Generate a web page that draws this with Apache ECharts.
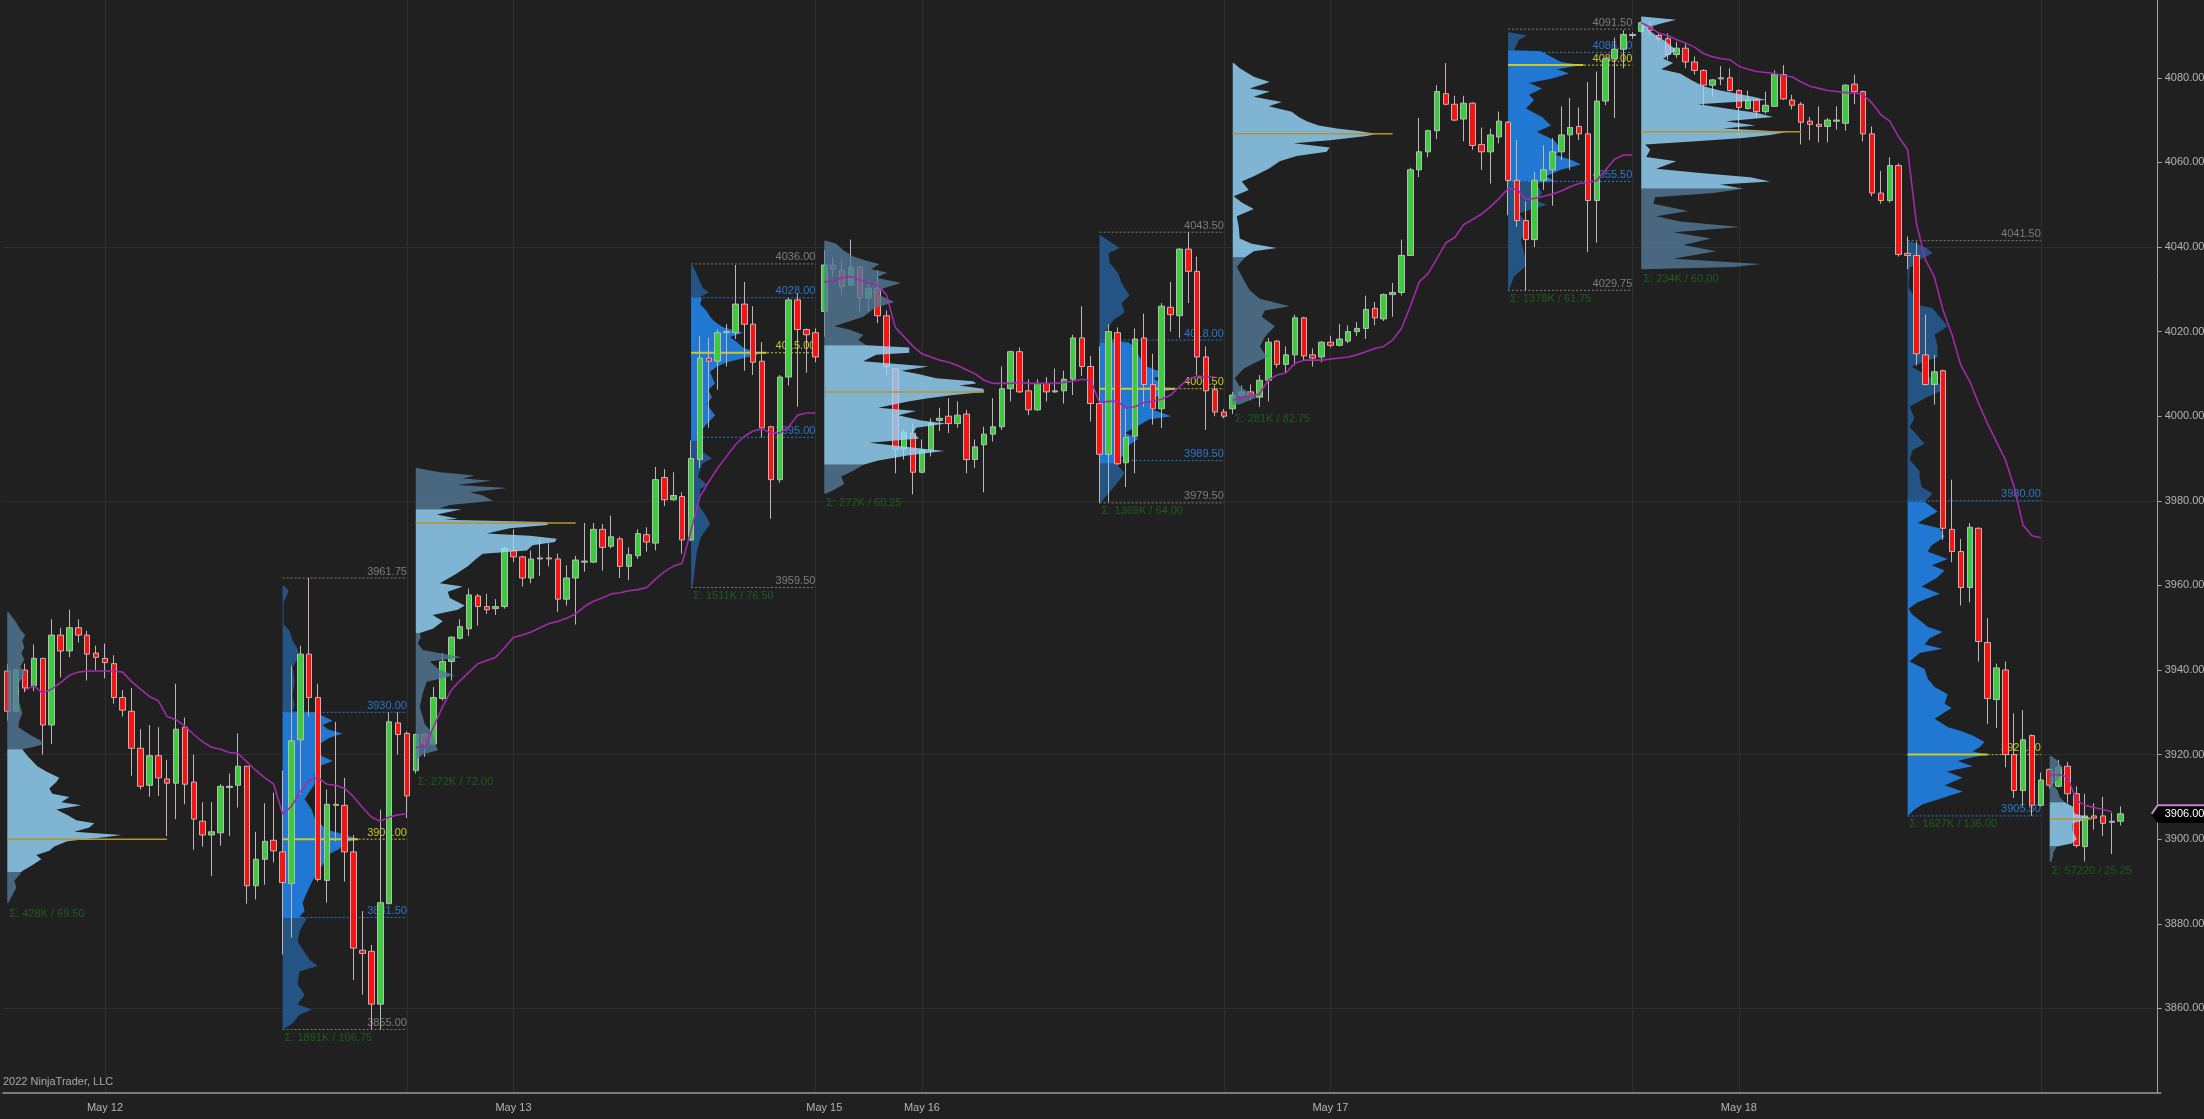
<!DOCTYPE html>
<html>
<head>
<meta charset="utf-8">
<style>html,body{margin:0;padding:0;background:#202020;}#c{width:2204px;height:1119px;}</style>
<script src="https://cdn.jsdelivr.net/npm/echarts@6/dist/echarts.min.js"></script>
</head>
<body>
<div id="c"></div>
<script>
// [open, close, low, high]
const candles = [
[3939.75,3930.25,3928,3941.5],[3930.25,3940,3930,3940.25],[3940,3935.75,3934.75,3941.5],[3936.25,3942.75,3935,3946],[3942.75,3927,3920,3942.75],
[3927,3948.25,3922.5,3952],[3948.25,3944.5,3938.25,3950],[3944.5,3950,3943,3954.25],[3950,3948.25,3946.5,3952],[3948.25,3943.75,3937.5,3949.25],
[3944,3943,3940,3945.75],[3942.75,3941.75,3938,3946.25],[3941.5,3933.5,3932,3943.5],[3933.5,3930.5,3929,3935.25],[3930.25,3921.5,3915,3935.75],
[3921.5,3912.5,3911.75,3926],[3912.75,3919.75,3910,3927],[3919.75,3914.5,3910.25,3926.5],[3914.25,3913.25,3900.75,3918.75],[3913.25,3926,3904.75,3936.75],
[3926.5,3913,3908.25,3928.75],[3913.5,3904.75,3897.5,3920],[3904.25,3901,3898.25,3908.75],[3901,3901.75,3891.25,3908.75],[3901.5,3912.5,3898.5,3913],
[3912.25,3912.5,3900.75,3915.5],[3912.75,3917.25,3907.5,3925],[3917.25,3889,3884.75,3917.25],[3889,3895.25,3885.75,3901.75],[3895.25,3899.5,3889.25,3908.5],
[3899.75,3897.25,3894.5,3911],[3897,3889.75,3872.75,3916.25],[3889.5,3923.25,3876.75,3941],[3923.5,3943.75,3910.5,3945.75],[3943.75,3933.5,3929,3961.75],
[3933.5,3890.5,3890,3936.75],[3890.25,3908.25,3885,3911.75],[3908.25,3908,3899.5,3927.75],[3908,3897,3890,3914.5],[3897,3874.25,3866.75,3901],
[3873.75,3873,3863.25,3883],[3873.5,3861,3855,3875],[3861,3885,3855,3907],[3884.75,3927.75,3884.75,3930],[3927.5,3924.75,3920,3930],
[3925,3910.25,3905,3925.5],[3916.25,3924.75,3915.5,3925],[3924.75,3922.75,3919.5,3925],[3922.5,3933.5,3922.25,3936],[3933.25,3942,3932.75,3944],
[3942,3947.75,3937.5,3948],[3947.5,3950.25,3947.25,3952],[3949.75,3957.75,3948,3959.25],[3957.5,3955,3950.5,3958],[3955,3954.25,3953.25,3958],
[3954.5,3955,3953,3956.75],[3955,3968.75,3954.5,3969],[3968.25,3966.75,3965.5,3973.25],[3966.75,3961.75,3959.75,3967],[3961.75,3966.25,3960.5,3968.25],
[3966.25,3966.5,3962.25,3970.75],[3966.5,3966.25,3964.5,3970],[3966.25,3956.75,3953.75,3967.5],[3956.75,3961.75,3955.25,3964.75],[3961.75,3966,3950.75,3967],
[3965.5,3965.75,3963.25,3974.75],[3965.5,3973.25,3965.25,3974.75],[3973.25,3969,3963.5,3974.5],[3969.25,3971.5,3968.75,3976.5],[3971,3964.5,3961.75,3971.5],
[3964.5,3967.25,3961.25,3969],[3967,3972.25,3966.25,3973.25],[3972,3970.25,3968,3973.75],[3970,3985,3968.25,3988],[3985.5,3980.25,3978.75,3987.5],
[3980.25,3981.25,3980,3986.75],[3981,3970.75,3967.5,3982],[3970.75,3990,3970.5,3994.25],[3989.75,4013.75,3987.75,4019],[4013.75,4013,3997.25,4018.5],
[4013,4019.75,4006.25,4020.5],[4019.75,4020,4011.75,4021.75],[4019.75,4026.5,4018.25,4035.75],[4026.5,4021.75,4010.75,4031.75],[4021.75,4012.75,4009.75,4026],
[4013,3997.25,3995,4017.5],[3997.5,3985,3975.75,3997.75],[3985,4009.25,3984.25,4009.75],[4009.25,4027.5,4007.25,4028],[4027.5,4020.5,4002.25,4029],
[4020.5,4019.25,4010.25,4020.75],[4019.75,4014,4012.75,4020.75],[4024.75,4035.75,4018.75,4039.25],[4035.75,4034.75,4033,4037.5],[4034.5,4030.75,4028.75,4037],
[4031,4035.25,4030.75,4041.75],[4035.25,4028,4024.5,4035.5],[4028,4030.25,4024.75,4031.5],[4030.25,4023.75,4022,4034.5],[4023.75,4011.75,4009.75,4025],
[4011.25,3992.25,3986.5,4011.25],[3992.25,3996.25,3989.75,3996.75],[3996,3986.75,3981.5,3998.25],[3986.75,3992,3986.5,3994.5],[3992,3998.25,3990.5,3999.5],
[3999,3999.5,3996.5,4002],[4000,3998.25,3996,4004.25],[3998.25,4000.25,3997.25,4003.5],[4000.5,3989.75,3986.5,4001.5],[3989.75,3992.75,3987.75,3994.5],
[3993.25,3995.75,3982,3997.5],[3995.75,3997.5,3994,4004.25],[3997.5,4006.5,3996.75,4011.75],[4006.5,4015.25,4003.5,4015.5],[4015.25,4005.75,4005.5,4016.25],
[4006,4001.5,4000.25,4008.75],[4001.5,4007.75,4001.25,4008.75],[4007.75,4005.75,4003.5,4009.25],[4005.75,4006,4005.5,4011.25],[4006,4008.75,4003,4010.75],
[4008.75,4018.5,4005,4019.25],[4018.5,4011.75,4009.5,4026],[4011.75,4003,3998.75,4014.25],[4003,3991,3979.5,4016.5],[3991,4020,3979.75,4021.75],
[4019.75,3988.75,3988.5,4021],[3989,3995,3983.25,4001.75],[3995.25,4018.25,3986.5,4020.75],[4018.5,4007.5,4002.25,4024.25],[4007.5,4001.75,3998,4014.75],
[4001.75,4026,3997.25,4026.75],[4025.75,4024,4020,4031.75],[4023.75,4039.5,4018.5,4039.75],[4039.5,4034.25,4026.75,4043.5],[4034.25,4014,4009.75,4037.75],
[4014,4006,3996.75,4016.5],[4006.25,4001,4000,4007.25],[4001,4000,3999.5,4001.75],[4001.75,4005,4000.5,4005.75],[4005,4005.75,4004.75,4007.25],
[4005.75,4004.75,4003.75,4007.5],[4004.5,4008.5,4002.25,4009.75],[4008.5,4017.5,4003.5,4018.5],[4017.75,4012.25,4011.5,4018],[4012.25,4014.5,4010.25,4016.5],
[4014.5,4023.25,4012,4024],[4023.25,4014.25,4013.25,4023.5],[4014.5,4013.75,4011.75,4016],[4014,4017.5,4012.75,4017.75],[4017.5,4016.75,4016.25,4019],
[4016.75,4018.25,4016.5,4021.75],[4017.75,4020,4017.25,4021.5],[4020,4020.75,4019,4022.25],[4020.75,4025.25,4018.25,4028.5],[4025.5,4023.25,4021.5,4027],
[4023,4028.75,4022.5,4029],[4028.75,4029.25,4023.5,4031.5],[4029.25,4038,4028.5,4041.75],[4038,4058.25,4038,4058.75],[4058.25,4062.5,4056.5,4070.5],
[4062.5,4067.5,4061.25,4067.75],[4067.5,4076.75,4065.5,4078.25],[4076.25,4073.75,4073.5,4083.5],[4073.75,4070,4069.75,4075.75],[4070.25,4074,4065,4075.75],
[4074,4064,4063,4074.25],[4064.25,4062.5,4058.25,4068.25],[4062.5,4066.5,4055,4068],[4066,4069.75,4064.5,4072],[4069.5,4055.75,4047.5,4069.75],
[4055.75,4046.25,4044.75,4065.25],[4046.25,4041.75,4029.75,4050.75],[4041.75,4055.75,4040,4057.75],[4055.75,4058.25,4053.5,4064],[4058.25,4062.5,4049.75,4065.75],
[4062.5,4066.5,4060.5,4073.25],[4066.5,4068.25,4058.25,4075.25],[4068.5,4066.75,4065.25,4073],[4066.75,4051,4038.75,4079],[4051,4074.5,4041,4081.5],
[4074.5,4084.5,4073.5,4084.75],[4084.5,4086.75,4070.5,4089.5],[4086.75,4090.25,4082.25,4091.25],[4090,4090.25,4089.25,4090.75],[4091,4093,4090.75,4093.25],
[4092,4091.25,4090,4093.25],[4090,4089.25,4088.5,4090.75],[4089.25,4085.5,4084.25,4090.5],[4085.5,4087,4084.75,4088.5],[4087,4083.75,4082.25,4088],
[4083.75,4081.75,4080.75,4085],[4081.75,4078.25,4073.5,4082],[4078.25,4079.5,4075.5,4079.75],[4079.75,4080,4078.25,4082.75],[4080,4077,4076.75,4082.25],
[4077,4073,4066.75,4077.25],[4072.75,4074.75,4072.5,4077],[4074.75,4072,4070.5,4075],[4072,4073.5,4071.5,4076.75],[4073.25,4080.75,4073.25,4081.75],
[4080.75,4075,4074.75,4083],[4074.75,4073.5,4072.5,4076],[4073.75,4069.5,4064.25,4074.25],[4069.75,4069,4065.25,4070.75],[4069,4068.5,4064.75,4073.25],
[4068.5,4070,4064.75,4070.5],[4069.75,4070,4067.75,4073.25],[4069.25,4078.25,4067.5,4078.5],[4078.5,4076.75,4073.75,4080.75],[4076.75,4066.75,4065,4077],
[4066.75,4052.75,4052,4068.5],[4052.75,4051,4050.25,4058],[4051,4059.25,4050.5,4061.25],[4059.25,4038.25,4037.75,4059.75],[4038.5,4038,4034.75,4042.5],
[4038,4014.75,4012,4041.25],[4014.5,4007.5,4007.25,4024],[4007.5,4010.5,4002.75,4014.5],[4010.75,3973.5,3970.75,4011],[3973.25,3968,3965.5,3985],
[3968,3959.5,3955.25,3971],[3959.5,3973.75,3956,3974.75],[3973.5,3946.75,3942,3973.75],[3946.5,3933.25,3927.25,3952.25],[3933,3940.5,3926.25,3941.5],
[3940,3920,3917,3942],[3920,3911.5,3909.75,3929.75],[3911.5,3923.5,3907.75,3930.5],[3924.5,3908,3905.5,3924.75],[3908,3914,3907.75,3915.75],
[3916.5,3912.75,3912,3916.75],[3912.5,3917,3912.25,3918.75],[3917.25,3910.75,3908.5,3918.25],[3910.75,3898.5,3898,3912.5],[3898.25,3905.5,3894.75,3910.75],
[3905.5,3905,3902.25,3908.5],[3905.5,3903.75,3900.75,3910],[3904,3904.25,3896.5,3906.25],[3904.25,3906,3903.25,3907.75]
];

const dateBars = [11,57,92,103,149,195];
const dateLabels = ['May 12','May 13','May 15','May 16','May 17','May 18'];
const gridBars = [11,45,57,91,103,137,149,183,195,229];
const priceGrid = [3860,3920,3980,4040];
const lastPrice = 3906;

// session VWAP lines
const vwapStarts = [2,46,92,138,184,230];
const vwapA = [3935.25,3936.25,3934.5,3935.5,3937,3938.75,3939.5,3939.75,3939.75,3939.75,3939.75,3939.5,3937.25,3935.5,3933.75,3932.75,3929,3928.25,3926.75,3924.75,3923,3921.75,3921.25,3920.5,3920.25,3918.25,3916.25,3914.5,3913,3906,3907.75,3911.25,3914,3914.5,3913,3912.75,3912,3910,3907.5,3905.25,3904.25,3905.25,3905.75,3906];
const vwapB = [3921.75,3921.75,3926.5,3931.25,3935.25,3937.5,3939.5,3941.5,3942.25,3943,3945.25,3947.75,3948.25,3949,3950,3951,3951.5,3952.25,3953.25,3955,3956.25,3957,3958,3958.25,3958.75,3959,3959.5,3961.5,3963.25,3964.5,3965.25,3973,3981,3984.5,3987.75,3990.5,3993.25,3995.25,3996.5,3997,3996,3996,3997.5,4000.25,4000.75,4000.75];
const vwapC = [4031.75,4032,4032.75,4033,4032.25,4031.5,4031,4028.75,4021,4018.75,4016.5,4014.75,4014,4013.25,4012.75,4012,4011,4010,4008.5,4007.75,4007.75,4007.75,4008,4007.75,4007.75,4007.75,4007.75,4008,4008.25,4008.75,4008.5,4003.25,4003.5,4003.5,4002,4002.25,4003.25,4003.5,4004,4005,4007,4008.75,4009.5,4009.25,4009.25];
const vwapD = [4003.75,4004.5,4004.75,4005.25,4008.5,4009.75,4010.25,4012.5,4013.25,4013.25,4013.25,4013.5,4013.75,4014,4014.5,4015.25,4016,4016.5,4018,4020.75,4026,4031.75,4033.75,4037.25,4041,4042.25,4045.25,4046.5,4047.75,4049.5,4051.5,4053.75,4053.75,4051.25,4051.5,4052,4052.5,4053.25,4054.25,4055,4055.25,4055.75,4058.25,4060.75,4061.75,4061.75];
const vwapE = [4093,4092,4090.5,4090,4089,4088.25,4087.25,4085.75,4085,4084.5,4084.25,4082.75,4082,4081.5,4081.25,4081,4080.5,4080.25,4079,4078,4077.5,4077,4076.75,4076.5,4076.5,4076,4074,4071.25,4069.75,4066,4063,4045.5,4037,4033,4025,4019.25,4012,4008.25,4003,3998.25,3994,3989.75,3983.25,3974.25,3971.75,3971.25];
const vwapF = [3915.25,3915.25,3914.75,3909.25,3908,3907.5,3907,3906.5];

// volume profiles: price of each row, volume of each row
const pricesA = [3953.75,3952.5,3951.25,3949.5,3948.25,3947,3945.25,3944,3942.5,3940.75,3939,3937.25,3934.75,3932.25,3929.75,3928,3926.5,3924.75,3923.5,3922.5,3921.75,3921.25,3919.75,3918.5,3917.25,3916,3914.5,3913.5,3912,3910.75,3910,3908.75,3908,3907,3905.75,3904.5,3903.75,3902.75,3901.75,3901,3900.5,3899.5,3898.25,3897.25,3896.25,3895.25,3893.75,3892.5,3892.25,3891.5,3890.25,3888.5,3886.75,3885];
const volsA = [1,5,9,13,18,15,17,14,17,13,18,12,11,12,15,12,11,22,32,37,25,15,20,25,30,39,52,49,42,45,62,54,74,49,60,69,87,82,67,114,99,60,47,42,29,34,24,15,14,12,7,9,5,1];
const pricesB = [3960,3958.75,3957.5,3956,3950.75,3949.25,3947,3945,3943.25,3940.75,3937.25,3934,3931.75,3930.25,3930,3929.5,3928,3927,3926,3925,3924,3922.5,3920.5,3918.5,3917.25,3915.5,3913,3909.5,3907,3905,3902.25,3901,3900,3899,3897.75,3896.5,3894.75,3892.75,3890.25,3887.75,3885,3883,3881.75,3881.25,3878.25,3875.75,3873.25,3871.5,3870,3868.75,3865.75,3863.25,3861,3859.75,3858.5,3856.5,3855.25];
const volsB = [1,6,4,1,1,7,10,15,17,10,12,10,12,10,37,37,50,40,45,60,47,37,32,50,37,32,32,22,29,32,44,64,75,60,57,47,42,37,30,25,20,22,17,24,17,15,22,27,35,17,15,22,15,29,17,10,2];
const pricesC = [3987.75,3986.75,3986,3985.25,3984.75,3983.75,3983,3982,3981.25,3980,3979,3978.25,3978,3976.75,3975.75,3975.5,3975,3974.25,3973.5,3972.25,3971.75,3971,3970.25,3969.5,3968.25,3967.5,3966,3964.5,3962.5,3960.5,3959.75,3958.5,3957,3955.25,3954.25,3953,3951.5,3949.75,3948.75,3947.75,3946.25,3944.75,3943,3942,3940,3938.75,3937.25,3934.5,3931.25,3927.25,3925,3923,3921,3920,3919,3916];
const volsC = [1,24,59,47,76,41,92,54,67,77,34,24,46,21,42,29,131,132,94,71,114,141,139,117,111,67,59,52,39,24,47,32,34,49,42,17,27,17,4,5,2,7,46,14,24,39,11,7,4,9,17,19,22,7,2,1];
const pricesD = [4035.75,4034.5,4033.5,4031.75,4030.25,4029.25,4028.25,4028,4026.5,4024.75,4023.5,4022.25,4021,4019.75,4018.75,4017.5,4016.25,4015.5,4014.75,4014,4012.75,4011.75,4010.5,4009.25,4007.75,4006.25,4004.5,4003,4001.75,4000.25,3999,3997.75,3996.75,3995.25,3994,3992,3990,3988.75,3987.25,3985.75,3983.75,3982.75,3981,3979.25,3976.75,3974.5,3971.5,3968.25,3964.5,3960.5,3959.5];
const volsD = [1,4,6,9,12,18,9,11,9,16,19,24,32,52,39,46,52,61,69,57,36,26,19,21,24,17,21,16,19,24,19,14,11,11,9,9,21,11,9,7,16,9,9,7,14,19,10,6,4,2,1];
const pricesE = [4041.5,4040.75,4039.25,4037.75,4036.75,4036,4034.75,4034,4032.75,4031.5,4030.25,4028.75,4027,4025.5,4023.5,4021.25,4020.5,4019.25,4018,4016.75,4016.25,4015,4014.5,4013,4011.75,4010.75,4010,4009,4008.25,4007.75,4007.25,4006.5,4005.75,4005,4004.25,4003.5,4002,4001.25,4000.25,3999,3998.25,3997.25,3996,3994.75,3993.75,3991.75,3990.75,3989.5,3988.5,3987.25,3985.75,3984,3982.5,3981.75];
const volsE = [2,12,19,29,42,55,47,63,52,77,59,54,70,50,39,10,25,39,34,42,85,85,52,39,104,77,94,112,149,152,135,159,160,129,104,84,54,92,74,97,122,92,89,95,45,120,85,54,39,30,17,20,9,2];
const pricesF = [4042.75,4039.75,4038.5,4036.25,4033.75,4031.5,4028.5,4026.75,4024.5,4022.75,4020.5,4018.25,4017.5,4016.5,4014,4011.75,4010,4009,4007.75,4007,4006.5,4005.75,4003.75,4001.75,4000,3999.25,3997.5,3996,3994.75,3993.25,3991.25,3989.75,3988.75,3986.5,3984,3981.75,3979.75];
const volsF = [1,20,9,10,19,22,30,22,25,14,7,9,29,34,40,47,67,54,62,59,77,62,54,50,72,50,37,25,39,30,25,20,17,25,17,9,2];
const pricesG = [4083.5,4082.25,4080.25,4079,4077.5,4076.75,4075.5,4074.25,4073.25,4072,4070.75,4069.75,4068.75,4068,4067.5,4066.75,4066.25,4065.25,4064.5,4063.5,4062.5,4061.5,4060.25,4058.5,4056.75,4055.5,4053.5,4052,4050.5,4049,4047.25,4044.75,4042,4040.75,4039.75,4039,4037.5,4035.25,4032.25,4029.75,4027.75,4026,4025,4023.5,4021.25,4018.75,4016.5,4014,4011.25,4009,4007,4004.5,4002.75];
const volsG = [1,7,21,37,17,37,21,49,36,59,66,74,86,104,124,144,134,97,61,97,94,64,47,36,21,9,16,1,9,21,4,6,7,19,44,21,12,4,11,17,27,57,32,29,42,32,27,34,11,2,7,24,7];
const pricesH = [4090.75,4090,4089,4087.5,4086.5,4086.25,4085,4083.75,4083,4082,4081,4079.75,4078.75,4077.5,4076,4074.75,4072.75,4070.75,4068.75,4067.25,4065.25,4063.25,4061.75,4060.5,4059.5,4058.25,4056.75,4055.5,4055,4052.75,4051,4050,4048,4044.75,4041.75,4038.5,4035.5,4033,4029.75];
const volsH = [1,19,11,8,6,33,43,53,74,49,61,43,21,34,21,26,18,34,43,29,46,53,48,64,73,53,38,48,28,34,28,39,11,21,13,16,18,6,1];
const pricesI = [4094.5,4093.75,4092.75,4091.75,4090,4088.5,4086.5,4084.5,4083.5,4082,4081,4079.5,4078,4077,4075.5,4074.75,4073.75,4072.5,4071.75,4070.75,4069.75,4068.75,4068,4067.25,4066.5,4065.75,4065,4064.25,4063,4061.25,4060.25,4058.5,4057.5,4056.5,4055.5,4054.75,4053.75,4052.75,4051.75,4050.25,4048.5,4047.25,4046,4044.75,4043.5,4042,4040.5,4039,4037.25,4036,4035.25,4034.75];
const volsI = [1,35,19,5,15,25,35,22,32,20,39,50,62,79,112,125,57,92,115,132,85,114,82,147,129,102,55,4,9,5,35,15,59,109,129,79,102,72,14,12,47,15,39,99,32,70,42,75,32,120,92,2];
const pricesJ = [4041.25,4039.75,4038.5,4037,4035,4030.5,4026.25,4025.5,4023.5,4021.25,4019.25,4016.5,4014,4011.75,4009.25,4006.5,4004.5,4002.25,3999.5,3997.5,3993.5,3992,3989.75,3987,3985.75,3983.25,3981.75,3979.75,3977.5,3974.75,3973.5,3971.5,3969.5,3968,3966.25,3964.75,3963.5,3961.75,3959.75,3958,3956,3954.5,3953.25,3951.75,3950.25,3949,3947.5,3946,3945,3944,3942,3940.25,3938,3936,3934.25,3932,3931,3928.5,3926.5,3925.5,3924.5,3923,3921.75,3920.75,3920,3919.5,3918.5,3917.25,3916,3914.5,3912.75,3911.25,3909.75,3908.25,3907,3905.75];
const volsJ = [4,19,25,12,2,1,12,25,32,40,27,30,30,4,22,39,19,2,7,2,17,5,2,12,12,14,25,17,30,10,32,37,24,20,40,24,37,29,14,32,10,1,4,12,20,35,22,17,35,12,2,17,20,27,40,37,44,27,40,54,65,77,72,65,80,67,50,65,39,55,37,55,35,15,7,1];
const pricesK = [3919.75,3918.75,3917.25,3914.75,3912.75,3911.5,3910,3908.75,3907.75,3906,3905,3903.75,3902,3900,3899,3898.25,3897,3894.75];
const volsK = [1,7,12,10,3,8,10,15,23,25,42,23,23,27,22,7,4,2];

const startBars = [0,31,46,77,92,123,138,169,184,214,230];
const isRegular = [false,true,false,true,false,true,false,true,false,true,false];
const valueHigh = [3921.25,3930,3978,4028,4016.75,4018,4083.5,4086.5,4094.5,3980,3908.75];
const valueLow = [3892.25,3881.5,3948.75,3995,3988.5,3989.5,4037.5,4055.5,4053.75,3905.5,3898.25];
const pocPrices = [3900,3900,3974.75,4015,4005.75,4006.5,4066.75,4083,4067.25,3920,3904.75];
const pocEndBars = [18,39.5,64,85.5,110,131.5,156,177.5,202,223,234.7];
const sessionLows = [3884.25,3855,3915.5,3959.5,3981.5,3979.5,4001.25,4029.75,4034.5,3905.5,3894.5];
const summaryTexts = ['Σ: 428K / 69.50','Σ: 1891K / 106.75','Σ: 272K / 72.00','Σ: 1511K / 76.50','Σ: 272K / 60.25','Σ: 1369K / 64.00','Σ: 281K / 82.75','Σ: 1378K / 61.75','Σ: 234K / 60.00','Σ: 1627K / 136.00','Σ: 57220 / 25.25'];
const profilePrices = [pricesA,pricesB,pricesC,pricesD,pricesE,pricesF,pricesG,pricesH,pricesI,pricesJ,pricesK];
const profileVols = [volsA,volsB,volsC,volsD,volsE,volsF,volsG,volsH,volsI,volsJ,volsK];

// regular-session level lines
const levelStart = [31,77,123,169,214];
const levelEnd = [45,91,137,183,229];
const levelTop = [3961.75,4036,4043.5,4091.5,4041.5];
const levelBottom = [3855,3959.5,3979.5,4029.75,null];
const levelVah = [3930,4028,4018,4086,3980];
const levelVal = [3881.5,3995,3989.5,4055.5,3905.5];
const levelPoc = [3900,4015,4006.5,4083,3920];

const BAR_COUNT = 243, BAR_PX = 8.88, FONT = '"Liberation Sans", Arial, sans-serif';
const xCats = Array.from({length:BAR_COUNT},(_,i)=>{const k=dateBars.indexOf(i);return k>=0?dateLabels[k]:'';});
const showDate = (i,v)=>v!=='';
const COL = {rthVA:'#2078d2',rthOut:'#235484',ethVA:'#97d9ff',ethOut:'#547a98'};

function outline(api,start,prices,vols,a,b){
  const x0=api.coord([start,prices[a]])[0];
  const pts=[[x0,api.coord([start,prices[a]])[1]]];
  const last=Math.min(b,prices.length-1);
  for(let i=a;i<=last;i++){
    pts.push(api.coord([start+vols[i]/BAR_PX,prices[i]]));
  }
  pts.push([x0,api.coord([start,prices[last]])[1]]);
  return pts;
}
function renderProfile(params,api){
  const k=api.value(2);
  const prices=profilePrices[k],vols=profileVols[k],start=startBars[k],reg=isRegular[k];
  const kids=[];
  const inVA=i=>prices[i]<=valueHigh[k]&&prices[i]>valueLow[k];
  let a=0;
  while(a<prices.length-1){
    let b=a+1;
    while(b<prices.length-1&&inVA(b)===inVA(a))b++;
    const fill=reg?(inVA(a)?COL.rthVA:COL.rthOut):(inVA(a)?COL.ethVA:COL.ethOut);
    kids.push({type:'polygon',shape:{points:outline(api,start,prices,vols,a,b)},style:{fill:fill,opacity:reg?1:0.8}});
    a=b;
  }
  const p0=api.coord([start,pocPrices[k]]),p1=api.coord([pocEndBars[k],pocPrices[k]]);
  kids.push({type:'line',shape:{x1:p0[0],y1:p0[1],x2:p1[0],y2:p1[1]},style:{stroke:reg?'#c8c828':'#b8932e',lineWidth:reg?2:1.5}});
  const t=api.coord([start,sessionLows[k]]);
  kids.push({type:'text',style:{x:t[0]+2,y:t[1]+3,text:summaryTexts[k],fill:'#1e5e1e',font:'11px '+FONT,textAlign:'left',textVerticalAlign:'top'}});
  return {type:'group',children:kids};
}
const levelRows=[];
levelStart.forEach((s,k)=>{
  levelRows.push([s,levelTop[k],levelEnd[k],0]);
  if(levelBottom[k]!==null)levelRows.push([s,levelBottom[k],levelEnd[k],0]);
  levelRows.push([s,levelVah[k],levelEnd[k],1]);
  levelRows.push([s,levelVal[k],levelEnd[k],1]);
  levelRows.push([s,levelPoc[k],levelEnd[k],2]);
});
const levelCol=['#7d7d7d','#2a78cc','#c8c828'];
function renderLevel(params,api){
  const a=api.coord([api.value(0),api.value(1)]),b=api.coord([api.value(2),api.value(1)]);
  const c=levelCol[api.value(3)];
  return {type:'group',children:[
    {type:'line',shape:{x1:a[0],y1:a[1],x2:b[0],y2:a[1]},style:{stroke:c,lineWidth:1,lineDash:[2,2]}},
    {type:'text',style:{x:b[0],y:a[1]-1,text:api.value(1).toFixed(2),fill:c,font:'11px '+FONT,textAlign:'right',textVerticalAlign:'bottom'}}
  ]};
}
function renderMarker(params,api){
  const p=api.coord([api.value(0),api.value(1)]);
  const h=8.5,x=p[0];
  return {type:'group',children:[
    {type:'polygon',shape:{points:[[x-6,p[1]],[x,p[1]-h],[2204,p[1]-h],[2204,p[1]+h],[x,p[1]+h]]},style:{fill:'#000',stroke:'#000'}},
    {type:'polyline',shape:{points:[[x-6,p[1]],[x,p[1]-h],[2204,p[1]-h]]},style:{stroke:'#c583cf',lineWidth:2,fill:null}},
    {type:'text',style:{x:x+7,y:p[1]+0.5,text:api.value(1).toFixed(2),fill:'#fff',font:'11px '+FONT,textAlign:'left',textVerticalAlign:'middle'}}
  ]};
}
const profileSeries=(reg,z)=>({type:'custom',xAxisIndex:1,yAxisIndex:0,z:z,clip:false,silent:true,
  renderItem:renderProfile,encode:{x:0,y:1},
  data:startBars.map((s,k)=>[s,profilePrices[k][0],k]).filter(r=>isRegular[r[2]]===reg)});
const vwapSeries=[vwapA,vwapB,vwapC,vwapD,vwapE,vwapF].map((v,k)=>({type:'line',xAxisIndex:0,yAxisIndex:0,z:6,showSymbol:false,symbol:'none',silent:true,
  lineStyle:{color:'#a12aa8',width:1.6},data:v.map((y,i)=>[vwapStarts[k]+i,y])}));

const chart=echarts.init(document.getElementById('c'),null,{renderer:'canvas'});
chart.setOption({
  animation:false,
  backgroundColor:'#202020',
  grid:{left:2.86,top:-6.8,width:BAR_COUNT*BAR_PX,height:1099.8,containLabel:false,outerBoundsMode:'none'},
  xAxis:[
    {type:'category',data:xCats,boundaryGap:true,
     axisLine:{lineStyle:{color:'#9a9a9a',width:1.5}},
     axisTick:{alignWithLabel:true,interval:showDate,length:4,lineStyle:{color:'#9a9a9a'}},
     axisLabel:{interval:showDate,color:'#b4b4b4',fontSize:11,fontFamily:FONT,margin:9},
     splitLine:{show:false}},
    {type:'value',min:-0.5,max:BAR_COUNT-0.5,position:'top',
     axisLine:{show:false,onZero:false},axisLabel:{show:false},
     axisTick:{show:false,customValues:gridBars},
     splitLine:{show:true,lineStyle:{color:'#2e2e2e',width:1}}}
  ],
  yAxis:[
    {type:'value',position:'right',offset:-3,min:3840,max:4100,interval:20,
     axisLine:{show:true,onZero:false,lineStyle:{color:'#a5a5a5',width:1}},
     axisTick:{show:true,length:4,lineStyle:{color:'#a5a5a5'}},
     axisLabel:{color:'#b4b4b4',fontSize:11,fontFamily:FONT,margin:7,showMinLabel:false,showMaxLabel:false,formatter:v=>v.toFixed(2)},
     splitLine:{show:false}},
    {type:'value',position:'right',min:3840,max:4100,
     axisLine:{show:false,onZero:false},axisLabel:{show:false},
     axisTick:{show:false,customValues:priceGrid},
     splitLine:{show:true,lineStyle:{color:'#2e2e2e',width:1}}}
  ],
  series:[
    profileSeries(true,1),
    {type:'custom',xAxisIndex:1,yAxisIndex:0,z:2,clip:false,silent:true,renderItem:renderLevel,encode:{x:0,y:1},data:levelRows},
    {type:'candlestick',xAxisIndex:0,yAxisIndex:0,z:3,barWidth:6,silent:true,data:candles,
     itemStyle:{color:'#3ccb3c',color0:'#f41414',borderColor:'#b9b9b9',borderColor0:'#c4b4b4',borderWidth:1}},
    profileSeries(false,4),
    ...vwapSeries,
    {type:'custom',xAxisIndex:1,yAxisIndex:0,z:7,clip:false,silent:true,renderItem:renderMarker,encode:{x:0,y:1},data:[[242.16,lastPrice]]}
  ],
  graphic:[{type:'text',left:3,top:1076,style:{text:'2022 NinjaTrader, LLC',fill:'#aaaaaa',font:'11px '+FONT}}]
});
</script>
</body>
</html>
